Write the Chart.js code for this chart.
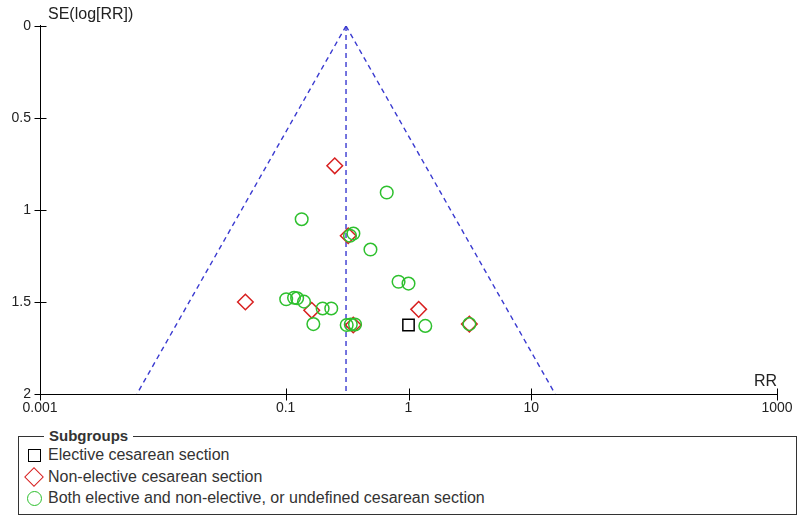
<!DOCTYPE html>
<html><head><meta charset="utf-8">
<script src="https://cdn.jsdelivr.net/npm/chart.js@4/dist/chart.umd.min.js"></script>
<style>
body{margin:0;background:#fff;width:800px;height:524px;overflow:hidden;font-family:"Liberation Sans",Arial,sans-serif;color:#222;}
#wrap{position:absolute;left:0;top:0;width:800px;height:424px;}
#legend{position:absolute;left:18px;top:436px;width:777px;height:77px;border:1px solid #333;}
#legend .title{position:absolute;left:25px;top:-10px;background:#fff;padding:0 5px;font-weight:bold;font-size:15px;line-height:18px;color:#333;}
#legend .row{position:absolute;left:0;height:20px;font-size:16px;line-height:20px;color:#333;}
#legend .row span.t{position:absolute;left:29px;white-space:nowrap;}
.mk{position:absolute;box-sizing:border-box;}
</style>
</head><body>
<div id="wrap"><canvas id="c" width="800" height="424"></canvas></div>
<div id="legend">
  <div class="title">Subgroups</div>
  <div class="row" style="top:8px"><div class="mk" style="left:9px;top:4px;width:13px;height:13px;border:1.5px solid #000"></div><span class="t">Elective cesarean section</span></div>
  <div class="row" style="top:30px"><div class="mk" style="left:8px;top:3px;width:14px;height:14px;border:1.6px solid #d82020;transform:rotate(45deg)"></div><span class="t">Non-elective cesarean section</span></div>
  <div class="row" style="top:51px"><div class="mk" style="left:8px;top:3px;width:15px;height:15px;border:1.5px solid #2ec02e;border-radius:50%"></div><span class="t">Both elective and non-elective, or undefined cesarean section</span></div>
</div>
<script>
// ---- data ----
const pooledRR = 0.31;
const xTicks = [0.001, 0.1, 1, 10, 1000];
const yTicks = [0, 0.5, 1, 1.5, 2];

const electiveRR = [1.0];
const electiveSE = [1.625];

const nonElectiveRR = [0.251, 0.323, 0.047, 0.163, 1.21, 0.355, 3.13];
const nonElectiveSE = [0.76, 1.14, 1.50, 1.545, 1.54, 1.625, 1.62];

const bothRR = [0.665, 0.135, 0.334, 0.356, 0.49, 0.83, 1.0, 0.101, 0.117, 0.124, 0.141, 0.20, 0.235, 0.168, 0.314, 0.339, 0.367, 1.37, 3.13];
const bothSE = [0.905, 1.05, 1.14, 1.128, 1.215, 1.39, 1.40, 1.485, 1.477, 1.48, 1.498, 1.535, 1.535, 1.62, 1.625, 1.622, 1.622, 1.63, 1.62];

const seMax = 2;
// ---------------------------------------

const pts = (xs, ys) => xs.map((v, i) => ({x: v, y: ys[i]}));
const funnelLeft = [{x: pooledRR, y: 0}, {x: pooledRR * Math.exp(-1.96 * seMax), y: seMax}];
const funnelRight = [{x: pooledRR, y: 0}, {x: pooledRR * Math.exp(1.96 * seMax), y: seMax}];
const funnelMid = [{x: pooledRR, y: 0}, {x: pooledRR, y: seMax}];

const FONT = '"Liberation Sans", Arial, sans-serif';
const blue = '#3a3ad0';

const axesPlugin = {
  id: 'axes',
  afterDraw(chart) {
    const {ctx, chartArea: a, scales: {x, y}} = chart;
    ctx.save();
    ctx.strokeStyle = '#000';
    ctx.lineWidth = 1;
    ctx.beginPath();
    const ax = Math.round(a.left) + 0.5, ay = Math.round(a.bottom) + 0.5;
    ctx.moveTo(ax, a.top - 1); ctx.lineTo(ax, ay);
    ctx.moveTo(ax, ay); ctx.lineTo(a.right, ay);
    yTicks.forEach(v => { const p = Math.round(y.getPixelForValue(v)) + 0.5; ctx.moveTo(ax - 6, p); ctx.lineTo(ax + 6, p); });
    xTicks.forEach(v => { const p = Math.round(x.getPixelForValue(v)) + 0.5; ctx.moveTo(p, ay - 6); ctx.lineTo(p, ay + 6); });
    ctx.stroke();
    ctx.fillStyle = '#222';
    ctx.font = '16px ' + FONT;
    ctx.textBaseline = 'middle';
    ctx.textAlign = 'left';
    ctx.fillText('SE(log[RR])', a.left + 8, a.top - 11);
    ctx.textAlign = 'right';
    ctx.fillText('RR', a.right, a.bottom - 12);
    ctx.restore();
  }
};

new Chart(document.getElementById('c'), {
  type: 'scatter',
  data: {
    datasets: [
      {label: 'Both elective and non-elective, or undefined cesarean section', data: pts(bothRR, bothSE),
        pointStyle: 'circle', pointRadius: 6.3, borderColor: '#2ec02e', backgroundColor: 'rgba(0,0,0,0)', borderWidth: 1.5},
      {label: 'Non-elective cesarean section', data: pts(nonElectiveRR, nonElectiveSE),
        pointStyle: 'rectRot', pointRadius: 7.8, borderColor: '#d82020', backgroundColor: 'rgba(0,0,0,0)', borderWidth: 1.5},
      {label: 'Elective cesarean section', data: pts(electiveRR, electiveSE),
        pointStyle: 'rect', pointRadius: 8, borderColor: '#000', backgroundColor: 'rgba(0,0,0,0)', borderWidth: 1.5},
      {data: funnelLeft, showLine: true, pointRadius: 0, borderColor: blue, borderWidth: 1.4, borderDash: [5, 4]},
      {data: funnelRight, showLine: true, pointRadius: 0, borderColor: blue, borderWidth: 1.4, borderDash: [5, 4]},
      {data: funnelMid, showLine: true, pointRadius: 0, borderColor: blue, borderWidth: 1.4, borderDash: [5, 4]}
    ]
  },
  options: {
    responsive: false,
    animation: false,
    events: [],
    layout: {padding: {top: 26, right: 23, left: 0, bottom: 0}},
    plugins: {legend: {display: false}, tooltip: {enabled: false}},
    scales: {
      x: {
        type: 'logarithmic', min: 0.001, max: 1000,
        afterBuildTicks: s => { s.ticks = xTicks.map(v => ({value: v})); },
        afterFit: s => { s.height = 30; },
        grid: {display: false, drawTicks: false},
        border: {display: false},
        ticks: {autoSkip: false, maxRotation: 0, padding: 6, color: '#222', font: {family: FONT, size: 14},
          callback: v => String(v)}
      },
      y: {
        type: 'linear', reverse: true, min: 0, max: seMax,
        afterBuildTicks: s => { s.ticks = yTicks.map(v => ({value: v})); },
        afterFit: s => { s.width = 40; },
        grid: {display: false, drawTicks: false},
        border: {display: false},
        ticks: {padding: 9, color: '#222', font: {family: FONT, size: 14}, callback: v => String(v)}
      }
    }
  },
  plugins: [axesPlugin]
});
</script>
</body></html>
